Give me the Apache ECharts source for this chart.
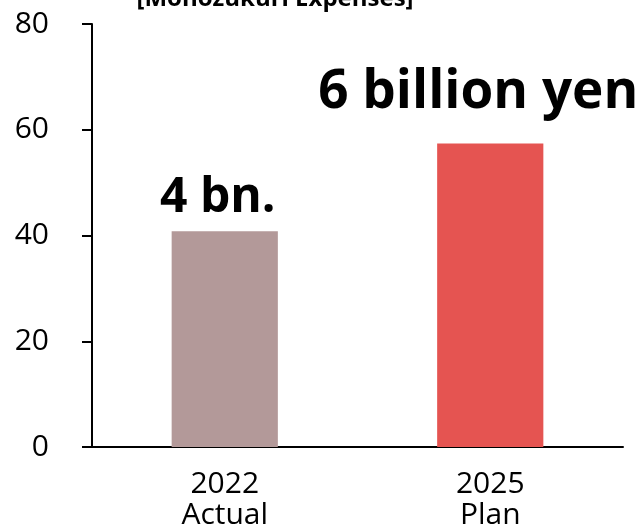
<!DOCTYPE html>
<html><head><meta charset="utf-8">
<script src="https://cdn.jsdelivr.net/npm/echarts@6/dist/echarts.min.js"></script>
<style>html,body{margin:0;padding:0;background:#fff}#c{width:643px;height:531px}</style>
</head><body><div id="c"></div>
<script>
const titleText = "[Monozukuri Expenses]";
const categories = ["2022\nActual", "2025\nPlan"];
const values = [40.8, 57.4];
const barLabels = ["4 bn.", "6 billion yen"];
const barColors = ["#b39999", "#e55451"];
const yTicks = [0, 20, 40, 60, 80];

const chart = echarts.init(document.getElementById('c'), null, {renderer: 'canvas'});
const F = '"Open Sans", sans-serif';
chart.setOption({
  animation: false,
  title: {
    text: titleText, left: 270, textAlign: 'center', top: -18,
    textStyle: {fontFamily: F, fontWeight: 'bold', fontSize: 24, color: '#000'}
  },
  grid: {left: 92, right: 20, top: 24, bottom: 82, containLabel: false},
  xAxis: {
    type: 'category', data: categories,
    axisLine: {lineStyle: {color: '#000', width: 2}},
    axisTick: {show: false},
    axisLabel: {fontFamily: F, fontSize: 30, lineHeight: 31, color: '#000', margin: 22}
  },
  yAxis: {
    type: 'value', min: yTicks[0], max: yTicks[yTicks.length - 1], interval: 20,
    splitLine: {show: false},
    axisLine: {show: true, lineStyle: {color: '#000', width: 2}},
    axisTick: {show: true, length: 10, lineStyle: {color: '#000', width: 2}},
    axisLabel: {fontFamily: F, fontSize: 30, color: '#000', margin: 43}
  },
  series: [{
    type: 'bar', barWidth: '40%',
    data: values.map((v, i) => ({
      value: v,
      itemStyle: {color: barColors[i]},
      label: {
        show: true, position: 'top',
        formatter: barLabels[i],
        distance: i === 0 ? 9 : 24,
        offset: i === 0 ? [-7, 0] : [-12, 0],
        fontFamily: F, fontWeight: 'bold', fontSize: i === 0 ? 48 : 53, color: '#000'
      }
    }))
  }]
});
</script></body></html>
